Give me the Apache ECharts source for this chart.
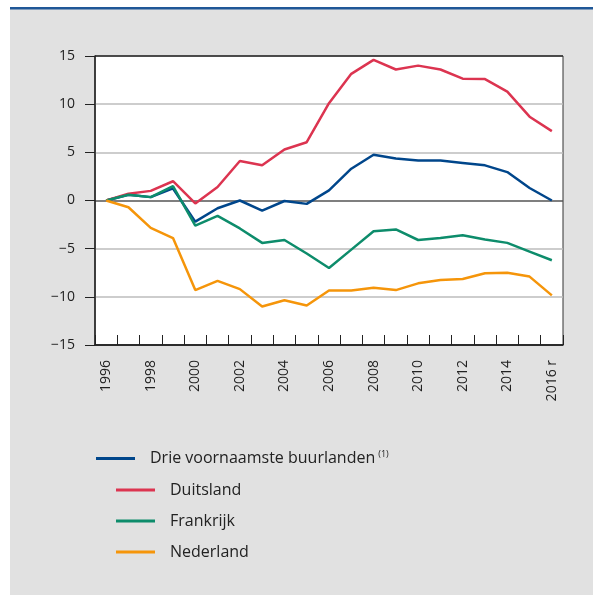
<!DOCTYPE html>
<html>
<head>
<meta charset="utf-8">
<script src="https://cdn.jsdelivr.net/npm/echarts@6/dist/echarts.min.js"></script>
<style>
	html, body { margin: 0; padding: 0; background: #fff; }
	#chart { width: 593px; height: 595px; }
</style>
</head>
<body>
<div id="chart"></div>
<script>
// jaren 1996 - 2016 (laatste jaar voorlopig: "r")
var years = ['1996','1997','1998','1999','2000','2001','2002','2003','2004','2005','2006',
	'2007','2008','2009','2010','2011','2012','2013','2014','2015','2016 r'];
var seriesNames = ['Drie voornaamste buurlanden', 'Duitsland', 'Frankrijk', 'Nederland'];

var drie = [0, 0.6, 0.35, 1.25, -2.2, -0.8, 0.0, -1.05, -0.05, -0.35, 1.05, 3.3, 4.75, 4.35, 4.15, 4.15, 3.9, 3.65, 2.95, 1.3, 0.0];
var duitsland = [0, 0.7, 1.0, 2.0, -0.3, 1.4, 4.1, 3.65, 5.3, 6.05, 10.1, 13.15, 14.6, 13.6, 14.0, 13.6, 12.65, 12.6, 11.3, 8.7, 7.2];
var frankrijk = [0, 0.6, 0.35, 1.5, -2.6, -1.6, -2.9, -4.4, -4.1, -5.5, -7.0, -5.1, -3.2, -3.0, -4.1, -3.9, -3.6, -4.05, -4.4, -5.3, -6.2];
var nederland = [0, -0.7, -2.85, -3.9, -9.3, -8.35, -9.2, -11.0, -10.35, -10.9, -9.35, -9.35, -9.05, -9.3, -8.6, -8.25, -8.15, -7.55, -7.5, -7.9, -9.85];

var colors = ['#00468b', '#dc3450', '#0d8c6b', '#f5950a'];
var font = 'Open Sans';

var myChart = echarts.init(document.getElementById('chart'));

function mkSeries(i, data) {
	return {
		name: seriesNames[i],
		type: 'line',
		data: data,
		showSymbol: false,
		symbol: 'none',
		lineStyle: { color: colors[i], width: 2.5 },
		itemStyle: { color: colors[i] }
	};
}

var option = {
	animation: false,
	backgroundColor: '#fff',
	color: colors,
	textStyle: { fontFamily: font },
	graphic: [
		{ type: 'rect', shape: { x: 10, y: 9, width: 583, height: 586 }, style: { fill: '#e1e1e1' }, z: -10 },
		{ type: 'rect', shape: { x: 10, y: 7, width: 583, height: 2.5 }, style: { fill: '#1f5797' }, z: -10 }
	],
	grid: {
		left: 95, top: 56, right: 30, bottom: 250,
		show: true,
		backgroundColor: '#fff',
		borderColor: '#333',
		borderWidth: 1
	},
	legend: [{
		data: [seriesNames[0]],
		left: 96, top: 450, padding: 0,
		icon: 'rect', itemWidth: 39, itemHeight: 3,
		textStyle: {
			fontFamily: font, fontSize: 16, color: '#222', padding: [0, 0, 0, 10],
			rich: {
				a: { fontFamily: font, fontSize: 16, color: '#222' },
				s: { fontFamily: font, fontSize: 9, color: '#222', verticalAlign: 'top', padding: [0, 0, 8, 3] }
			}
		},
		formatter: function (n) { return '{a|' + n + '}{s|(1)}'; }
	}, {
		data: seriesNames.slice(1),
		orient: 'vertical',
		left: 116, top: 482, padding: 0,
		itemGap: 15,
		icon: 'rect', itemWidth: 39, itemHeight: 3,
		textStyle: { fontFamily: font, fontSize: 16, color: '#222', padding: [0, 0, 0, 10] }
	}],
	xAxis: {
		type: 'category',
		data: years,
		boundaryGap: true,
		axisLine: { show: true, onZero: false, lineStyle: { color: '#222', width: 1.5 } },
		axisTick: { show: true, inside: true, length: 10, interval: 0, lineStyle: { color: '#222' } },
		axisLabel: { interval: 1, rotate: 90, margin: 15, fontFamily: font, fontSize: 14, color: '#222' },
		splitLine: { show: false }
	},
	yAxis: {
		type: 'value',
		min: -15, max: 15, interval: 5,
		axisLine: { show: true, lineStyle: { color: '#222', width: 1.5 } },
		axisTick: { show: true, length: 10, lineStyle: { color: '#222' } },
		axisLabel: {
			margin: 20, fontFamily: font, fontSize: 14, color: '#222',
			formatter: function (v) { return v < 0 ? '\u2212' + (-v) : '' + v; }
		},
		splitLine: { show: true, lineStyle: { color: ['#333', '#bcbcbc', '#bcbcbc', '#555', '#bcbcbc', '#bcbcbc', '#333'], width: 1.5 } }
	},
	series: [
		mkSeries(0, drie),
		mkSeries(1, duitsland),
		mkSeries(2, frankrijk),
		mkSeries(3, nederland)
	]
};

myChart.setOption(option);
</script>
</body>
</html>
